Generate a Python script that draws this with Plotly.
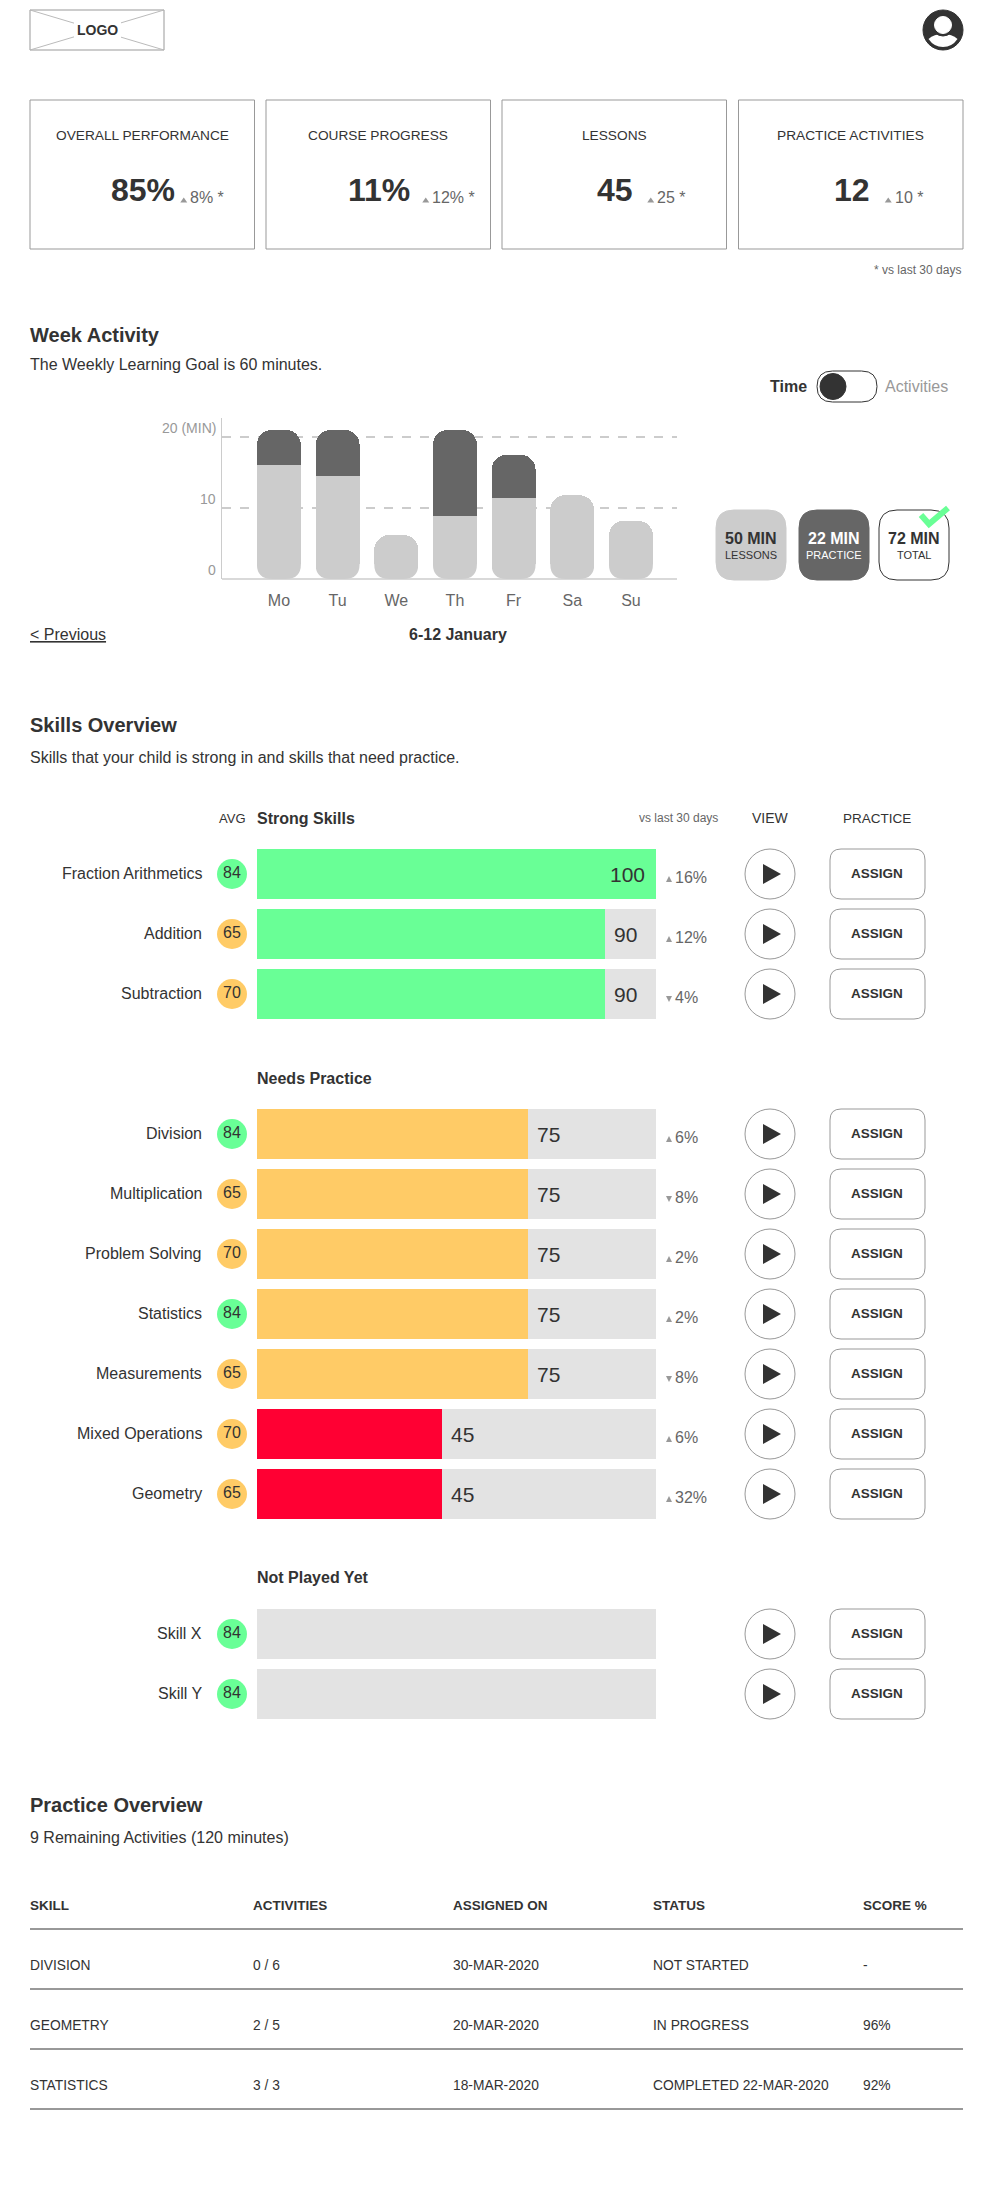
import plotly.graph_objects as go

W, H = 992, 2190

DARK = "#333333"
GREY_TXT = "#666666"
LINE_GREY = "#999999"
GREEN = "#69FF96"
ORANGE = "#FFCB66"
RED = "#FF0033"
TRACK = "#E3E3E3"
LESSON = "#CCCCCC"
PRACTICE = "#666666"

# KPI cards
card_titles = ["OVERALL PERFORMANCE", "COURSE PROGRESS", "LESSONS", "PRACTICE ACTIVITIES"]
card_values = ["85%", "11%", "45", "12"]
card_deltas = ["8% *", "12% *", "25 *", "10 *"]

# Week activity (minutes)
days = ["Mo", "Tu", "We", "Th", "Fr", "Sa", "Su"]
lesson_min = [16.1, 14.5, 6.2, 8.9, 11.4, 11.8, 8.2]
practice_min = [4.9, 6.5, None, 12.1, 6.1, None, None]
week_ticks = [0, 10, 20]
week_tick_labels = ["0", "10", "20 (MIN)"]
totals_value = ["50 MIN", "22 MIN", "72 MIN"]
totals_label = ["LESSONS", "PRACTICE", "TOTAL"]

# Skills
strong_names = ["Fraction Arithmetics", "Addition", "Subtraction"]
strong_avg = [84, 65, 70]
strong_fill = [100, 87.3, 87.3]
strong_score = [100, 90, 90]
strong_delta = ["16%", "12%", "4%"]
strong_up = [True, True, False]

needs_names = ["Division", "Multiplication", "Problem Solving", "Statistics",
               "Measurements", "Mixed Operations", "Geometry"]
needs_avg = [84, 65, 70, 84, 65, 70, 65]
needs_fill = [68, 68, 68, 68, 68, 46.3, 46.3]
needs_score = [75, 75, 75, 75, 75, 45, 45]
needs_delta = ["6%", "8%", "2%", "2%", "8%", "6%", "32%"]
needs_up = [True, False, True, True, False, True, True]

unplayed_names = ["Skill X", "Skill Y"]
unplayed_avg = [84, 84]
unplayed_fill = [0, 0]

# Practice table
table_head = ["SKILL", "ACTIVITIES", "ASSIGNED ON", "STATUS", "SCORE %"]
table_skill = ["DIVISION", "GEOMETRY", "STATISTICS"]
table_activities = ["0 / 6", "2 / 5", "3 / 3"]
table_assigned = ["30-MAR-2020", "20-MAR-2020", "18-MAR-2020"]
table_status = ["NOT STARTED", "IN PROGRESS", "COMPLETED 22-MAR-2020"]
table_score = ["-", "96%", "92%"]

fig = go.Figure()
shapes = []
notes = []


def text(x, y, s, size=16, color=DARK, bold=False, anchor="left", **kw):
    if bold:
        s = "<b>" + s + "</b>"
    opts = dict(xref="x", yref="y", x=x, y=y, text=s, showarrow=False, xanchor=anchor,
                yanchor="middle", font=dict(size=size, color=color), borderpad=0, borderwidth=0)
    opts.update(kw)
    notes.append(opts)


def box(x0, y0, x1, y1, r=0, fill="white", line=LINE_GREY, width=1):
    if r:
        path = (f"M {x0+r},{y0} L {x1-r},{y0} Q {x1},{y0} {x1},{y0+r} L {x1},{y1-r} Q {x1},{y1} {x1-r},{y1} "
                f"L {x0+r},{y1} Q {x0},{y1} {x0},{y1-r} L {x0},{y0+r} Q {x0},{y0} {x0+r},{y0} Z")
        shapes.append(dict(type="path", path=path, xref="x", yref="y", fillcolor=fill,
                           line=dict(color=line, width=width)))
    else:
        shapes.append(dict(type="rect", x0=x0, y0=y0, x1=x1, y1=y1, xref="x", yref="y",
                           fillcolor=fill, line=dict(color=line, width=width)))


def circle(cx, cy, r, fill="white", line=None, width=1):
    shapes.append(dict(type="circle", x0=cx-r, x1=cx+r, y0=cy-r, y1=cy+r, xref="x", yref="y",
                       fillcolor=fill, line=dict(color=line or fill, width=width)))


def seg(x0, y0, x1, y1, color=DARK, width=1, **kw):
    shapes.append(dict(type="line", x0=x0, x1=x1, y0=y0, y1=y1, xref="x", yref="y",
                       line=dict(color=color, width=width, **kw)))


def tri(x, y, w, h, up=True, color="#999999"):
    if up:
        p = f"M {x},{y+h} L {x+w},{y+h} L {x+w/2},{y} Z"
    else:
        p = f"M {x},{y} L {x+w},{y} L {x+w/2},{y+h} Z"
    shapes.append(dict(type="path", path=p, xref="x", yref="y", fillcolor=color, line=dict(width=0)))


def dom_y(top, bottom):
    return [1 - bottom / H, 1 - top / H]


# header
box(30, 10, 164, 50)
seg(30, 10, 164, 50, color="#BBBBBB")
seg(30, 50, 164, 10, color="#BBBBBB")
text(97, 30, "LOGO", size=14, bold=True, anchor="center", bgcolor="white", borderpad=3)
circle(943, 30, 20, fill=DARK)
shapes.append(dict(type="path", xref="x", yref="y", fillcolor="white", line=dict(width=0),
                   path="M 928.5,39 Q 934,34 943,34 Q 952,34 957.5,39 Q 952,47 943,47 Q 934,47 928.5,39 Z"))
circle(943, 25, 11, fill=DARK)
circle(943, 25, 8.5, fill="white")

# KPI cards
card_left = [30, 266, 502, 738.5]
delta_off = [48, 54, 43, 44]
for i, title in enumerate(card_titles):
    x0 = card_left[i]
    cx = x0 + 112.25
    box(x0, 100, x0 + 224.5, 249)
    text(cx, 135, title, size=13.7, anchor="center")
    text(cx + 1, 190, card_values[i], size=32, bold=True, anchor="center")
    tri(cx + delta_off[i] - 10, 197.5, 7, 5)
    text(cx + delta_off[i], 197, card_deltas[i], size=16, color=GREY_TXT)
text(961, 270, "* vs last 30 days", size=12, color=GREY_TXT, anchor="right")

# week activity
text(30, 335, "Week Activity", size=20, bold=True)
text(30, 364, "The Weekly Learning Goal is 60 minutes.", size=16)
text(807, 386, "Time", size=16, bold=True, anchor="right")
box(817, 371, 877, 402, r=15.5, line=DARK)
circle(833, 386.5, 13, fill=DARK)
text(885, 386, "Activities", size=16, color="#999999")

day_x = list(range(len(days)))
bar_w = 0.75
fig.add_trace(go.Bar(x=day_x, y=lesson_min, xaxis="x2", yaxis="y2", width=bar_w,
                     marker=dict(color=LESSON, cornerradius=15, line=dict(width=0)), name="Lessons"))
fig.add_trace(go.Bar(x=day_x, y=practice_min, xaxis="x2", yaxis="y2", width=bar_w,
                     marker=dict(color=PRACTICE, cornerradius=15, line=dict(width=0)), name="Practice"))

# round the feet of the bars, plotly only rounds the top end
px_per_day, px_per_min = 58.67, 7.1
rx, ry = 15 / px_per_day, 15 / px_per_min
for d in day_x:
    for xe, sgn in [(d - bar_w / 2, 1), (d + bar_w / 2, -1)]:
        shapes.append(dict(type="path", xref="x2", yref="y2", fillcolor="white", line=dict(width=0),
                           path=f"M {xe-sgn*0.02},0 L {xe-sgn*0.02},{ry} L {xe},{ry} Q {xe},0 {xe+sgn*rx},0 Z"))
seg(222, 579, 677, 579, color=LESSON, width=1.6)

for v, lab in zip(week_ticks, week_tick_labels):
    notes.append(dict(xref="x", yref="y2", x=216, y=v, yshift=9, text=lab, showarrow=False, borderpad=0, borderwidth=0,
                      xanchor="right", yanchor="middle", font=dict(size=14, color="#999999")))

text(30, 634, "<u>&lt; Previous</u>", size=16)
text(458, 634, "6-12 January", size=16, bold=True, anchor="center")

totals_box = [(716, LESSON, LESSON, DARK, DARK), (799, PRACTICE, PRACTICE, "white", "white"), (879, "white", DARK, DARK, DARK)]
for (x0, fill, edge, c1, c2), val, lab in zip(totals_box, totals_value, totals_label):
    box(x0, 510, x0 + 70, 580, r=18, fill=fill, line=edge)
    text(x0 + 35, 538, val, size=16, color=c1, bold=True, anchor="center")
    text(x0 + 35, 555, lab, size=11, color=c2, anchor="center")
shapes.append(dict(type="path", xref="x", yref="y", path="M 921,515 L 929,524 L 948,508",
                   line=dict(color=GREEN, width=6)))

# skills overview
text(30, 725, "Skills Overview", size=20, bold=True)
text(30, 757, "Skills that your child is strong in and skills that need practice.", size=16)
text(232, 818, "AVG", size=13, anchor="center")
text(257, 818, "Strong Skills", size=16, bold=True)
text(718, 818, "vs last 30 days", size=12, color=GREY_TXT, anchor="right")
text(770, 818, "VIEW", size=14, anchor="center")
text(877, 818, "PRACTICE", size=13.5, anchor="center")
text(257, 1078, "Needs Practice", size=16, bold=True)
text(257, 1577, "Not Played Yet", size=16, bold=True)


def fill_colour(v):
    if v >= 80:
        return GREEN
    if v >= 60:
        return ORANGE
    return RED


def skill_group(axis, top, names, avg, fill, score=None, delta=None, up=None):
    rest = [100 - v for v in fill]
    fig.add_trace(go.Bar(y=names, x=fill, orientation="h", xaxis="x3", yaxis=axis, width=50 / 60,
                         marker=dict(color=[fill_colour(v) for v in fill], line=dict(width=0))))
    fig.add_trace(go.Bar(y=names, x=rest, orientation="h", xaxis="x3", yaxis=axis, width=50 / 60,
                         marker=dict(color=TRACK, line=dict(width=0))))
    n = len(names)
    fig.layout["yaxis" + axis[1:]] = dict(domain=dom_y(top, top + n * 60), anchor="x3", visible=False,
                                          type="category", categoryorder="array", categoryarray=names,
                                          range=[n - 0.5, -0.5], fixedrange=True)
    ys = [top + 30 + 60 * k for k in range(n)]
    fig.add_trace(go.Scatter(x=[232] * n, y=ys, mode="markers+text", text=[str(a) for a in avg],
                             textfont=dict(size=16, color=DARK), textposition="middle center",
                             marker=dict(size=30, color=[GREEN if a >= 80 else ORANGE for a in avg]),
                             xaxis="x", yaxis="y"))
    for k, name in enumerate(names):
        y = ys[k]
        text(202, y - 1, name, size=16, anchor="right")
        circle(770, y, 25, line=LINE_GREY)
        tri_path = f"M 763,{y-10} L 781,{y} L 763,{y+10} Z"
        shapes.append(dict(type="path", xref="x", yref="y", path=tri_path, fillcolor=DARK, line=dict(width=0)))
        box(830, y - 25, 925, y + 25, r=11)
        text(877, y - 1, "ASSIGN", size=13.5, bold=True, anchor="center")
        if score:
            if fill[k] == 100:
                notes.append(dict(xref="x3", yref="y", x=fill[k], y=y, xshift=-11, text=str(score[k]), showarrow=False,
                                  borderpad=0, borderwidth=0, xanchor="right", yanchor="middle",
                                  font=dict(size=21, color=DARK)))
            else:
                notes.append(dict(xref="x3", yref="y", x=fill[k], y=y, xshift=9, text=str(score[k]), showarrow=False,
                                  borderpad=0, borderwidth=0, xanchor="left", yanchor="middle",
                                  font=dict(size=21, color=DARK)))
            tri(666, y + 2, 6, 6, up=up[k])
            text(675, y + 3, delta[k], size=16, color=GREY_TXT)


skill_group("y3", 844, strong_names, strong_avg, strong_fill, strong_score, strong_delta, strong_up)
skill_group("y4", 1104, needs_names, needs_avg, needs_fill, needs_score, needs_delta, needs_up)
skill_group("y5", 1604, unplayed_names, unplayed_avg, unplayed_fill)

# practice overview
text(30, 1805, "Practice Overview", size=20, bold=True)
text(30, 1837, "9 Remaining Activities (120 minutes)", size=16)
col_x = [30, 253, 453, 653, 863]
for x, h in zip(col_x, table_head):
    text(x, 1905, h, size=13.5, bold=True)
seg(30, 1929, 963, 1929)
columns = [table_skill, table_activities, table_assigned, table_status, table_score]
for r in range(len(table_skill)):
    y = 1965 + 60 * r
    for x, col in zip(col_x, columns):
        text(x, y, col[r], size=13.8)
    seg(30, y + 24, 963, y + 24)

fig.update_layout(
    width=W, height=H, margin=dict(l=0, r=0, t=0, b=0),
    paper_bgcolor="white", plot_bgcolor="rgba(0,0,0,0)",
    showlegend=False, barmode="stack",
    font=dict(family="Liberation Sans, Arial, sans-serif", color=DARK),
    xaxis=dict(range=[0, W], domain=[0, 1], visible=False, fixedrange=True, anchor="y"),
    yaxis=dict(range=[H, 0], domain=[0, 1], visible=False, fixedrange=True, anchor="x"),
    xaxis2=dict(domain=[222 / W, 677 / W], anchor="y2", range=[-0.97, 6.785], tickvals=day_x, ticktext=days,
                tickfont=dict(size=16, color=GREY_TXT), ticks="outside", ticklen=7, tickcolor="white",
                showgrid=False, zeroline=False, showline=False, fixedrange=True),
    yaxis2=dict(domain=dom_y(418, 579), anchor="x2", range=[0, 22.68], tickvals=[10, 20], showticklabels=False,
                showgrid=True, gridcolor=LESSON, griddash="dash", gridwidth=1.5, zeroline=False,
                showline=True, linecolor=LESSON, linewidth=1, ticks="", fixedrange=True),
    xaxis3=dict(domain=[257 / W, 656 / W], anchor="y3", range=[0, 100], visible=False, fixedrange=True),
    shapes=shapes, annotations=notes,
)

fig.write_html("out.html", config={"displayModeBar": False}, post_script="document.body.style.margin='0';")
